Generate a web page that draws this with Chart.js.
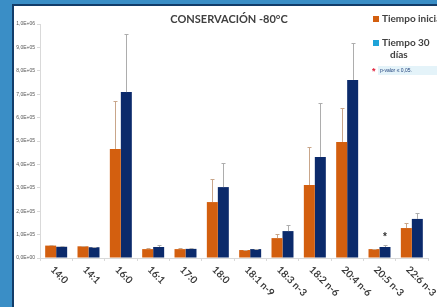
<!DOCTYPE html>
<html>
<head>
<meta charset="utf-8">
<script src="https://cdn.jsdelivr.net/npm/chart.js@4.4.1/dist/chart.umd.min.js"></script>
<style>
html, body { margin: 0; padding: 0; }
body { width: 437px; height: 307px; background: #3a8ec6; position: relative; overflow: hidden; }
#panel { position: absolute; left: 12px; top: 4px; right: 0; bottom: 0; background: #fff;
         border-left: 2px solid #123c69; border-top: 2px solid #123c69; }
#wrap { position: absolute; left: 0; top: 0; width: 437px; height: 307px; }
</style>
</head>
<body>
<div id="panel"></div>
<div id="wrap"><canvas id="chart" width="437" height="307"></canvas></div>
<script>
// datos
const categories = ['14:0', '14:1', '16:0', '16:1', '17:0', '18:0', '18:1 n-9', '18:3 n-3', '18:2 n-6', '20:4 n-6', '20:5 n-3', '22:6 n-3'];
const tiempoInicial = [53000, 50000, 466000, 38000, 38000, 239000, 34000, 85000, 312000, 496000, 38000, 128000];
const tiempo30 = [48000, 46000, 709000, 47000, 39000, 303000, 38000, 115000, 432000, 761000, 47000, 167000];
const errInicial = [3000, 2000, 205000, 4000, 3000, 99000, 2000, 17000, 162000, 145000, 2000, 21000];
const err30 = [4000, 2000, 248000, 9000, 3000, 103000, 2000, 26000, 230000, 158000, 9000, 26000];
const significativo = [false, false, false, false, false, false, false, false, false, false, true, false];
const yTickValues = [0, 100000, 200000, 300000, 400000, 500000, 600000, 700000, 800000, 900000, 1000000];

const orange = '#d35f0f';
const navy = '#0b2a6b';

function sci(v) {
    // 1.0e+6 -> 1,0E+06
    const [m, e] = v.toExponential(1).split('e');
    const n = Math.abs(parseInt(e));
    return m.replace('.', ',') + 'E' + (e[0] === '-' ? '-' : '+') + (n < 10 ? '0' + n : n);
}

const extras = {
    id: 'extras',
    afterDatasetsDraw(chart) {
        const ctx = chart.ctx;
        const y = chart.scales.y;
        const errColors = ['#c9a68a', '#adadad'];
        [errInicial, err30].forEach((errs, d) => {
            const meta = chart.getDatasetMeta(d);
            const vals = chart.data.datasets[d].data;
            ctx.save();
            ctx.strokeStyle = errColors[d];
            ctx.lineWidth = 1;
            meta.data.forEach((bar, i) => {
                const top = Math.round(y.getPixelForValue(vals[i] + errs[i])) + 0.5;
                const x = Math.round(bar.x) + 0.5;
                ctx.beginPath();
                ctx.moveTo(x, bar.y);
                ctx.lineTo(x, top);
                ctx.moveTo(x - 2, top);
                ctx.lineTo(x + 2, top);
                ctx.stroke();
            });
            ctx.restore();
        });
        // asterisco p-valor
        const meta = chart.getDatasetMeta(1);
        ctx.save();
        ctx.fillStyle = '#333';
        ctx.font = 'bold 10px "Liberation Sans"';
        ctx.textAlign = 'center';
        ctx.textBaseline = 'middle';
        significativo.forEach((s, i) => {
            if (!s) return;
            const top = y.getPixelForValue(tiempo30[i] + err30[i]);
            ctx.fillText('*', meta.data[i].x, top - 8);
        });
        ctx.restore();
    },
    afterDraw(chart) {
        const ctx = chart.ctx;
        const xs = chart.scales.x;
        ctx.save();
        // etiquetas del eje x, giradas hacia abajo
        ctx.fillStyle = '#3a3a3a';
        ctx.font = 'bold 10px Lato';
        ctx.textAlign = 'left';
        ctx.textBaseline = 'middle';
        categories.forEach((c, i) => {
            const px = xs.getPixelForValue(i);
            ctx.save();
            ctx.translate(px - 4, 268);
            ctx.rotate(Math.PI / 4);
            ctx.fillText(c, 0, 0);
            ctx.restore();
        });
        // titulo
        ctx.font = 'bold 11px Lato';
        ctx.fillStyle = '#404040';
        ctx.textAlign = 'center';
        ctx.fillText('CONSERVACIÓN -80°C', 229, 19);
        // leyenda
        ctx.textAlign = 'left';
        ctx.font = 'bold 10px Lato';
        ctx.fillStyle = orange;
        ctx.fillRect(373, 16, 6, 6);
        ctx.fillStyle = '#1fa3d8';
        ctx.fillRect(373, 40, 6, 6);
        ctx.fillStyle = '#404040';
        ctx.fillText('Tiempo inicial', 382, 19);
        ctx.fillText('Tiempo 30', 382, 43);
        ctx.fillText('días', 390, 55);
        ctx.fillStyle = '#e4f3f9';
        ctx.fillRect(378, 66, 59, 9);
        ctx.fillStyle = '#e0203a';
        ctx.font = 'bold 9px "Liberation Sans"';
        ctx.fillText('*', 372, 72);
        ctx.fillStyle = '#1d3f7a';
        ctx.font = '5px "Liberation Sans"';
        ctx.fillText('p-valor ≤ 0,05.', 380, 70.5);
        ctx.restore();
    }
};

new Chart(document.getElementById('chart'), {
    type: 'bar',
    data: {
        labels: categories,
        datasets: [
            { label: 'Tiempo inicial', data: tiempoInicial, backgroundColor: orange },
            { label: 'Tiempo 30 días', data: tiempo30, backgroundColor: navy }
        ]
    },
    options: {
        responsive: false,
        animation: false,
        events: [],
        layout: { padding: { left: 14, right: 9, top: 24, bottom: 0 } },
        datasets: { bar: { categoryPercentage: 0.68, barPercentage: 1.0 } },
        plugins: { legend: { display: false }, title: { display: false }, tooltip: { enabled: false } },
        scales: {
            x: {
                grid: { display: true, drawOnChartArea: false, drawTicks: true, tickLength: 3, color: '#d9d9d9' },
                border: { color: '#d9d9d9' },
                ticks: { display: false },
                afterFit: s => { s.height = 49; }
            },
            y: {
                min: 0,
                max: 1000000,
                afterBuildTicks: s => { s.ticks = yTickValues.map(v => ({ value: v })); },
                grid: { display: true, drawOnChartArea: false, drawTicks: true, tickLength: 3, color: '#d9d9d9' },
                border: { color: '#d9d9d9' },
                ticks: {
                    padding: 2,
                    color: '#555',
                    font: { size: 5, family: '"Liberation Sans"' },
                    callback: v => sci(v)
                },
                afterFit: s => { s.width = 26; }
            }
        }
    },
    plugins: [extras]
});
</script>
</body>
</html>
